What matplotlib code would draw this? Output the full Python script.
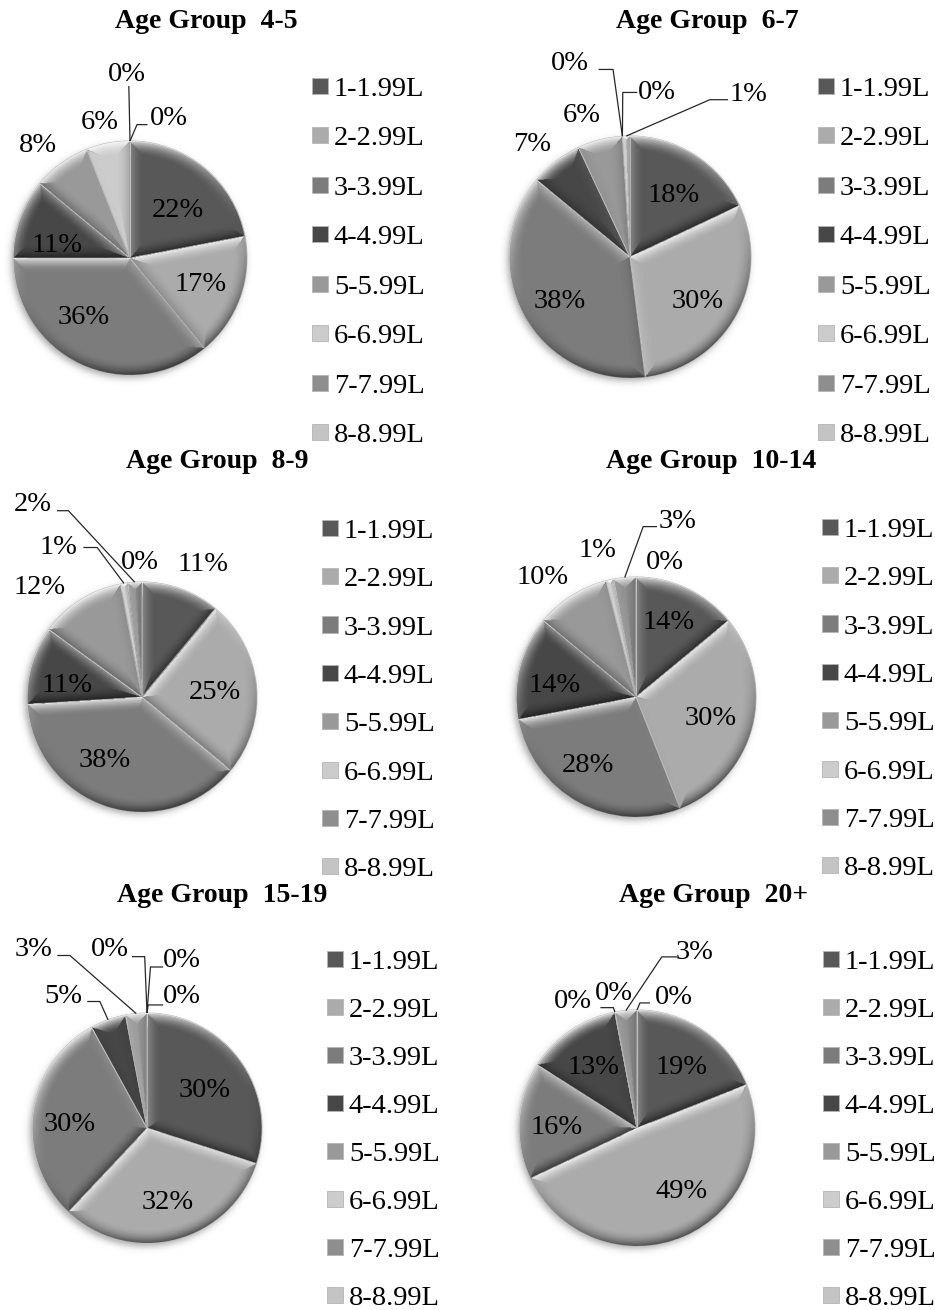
import numpy as np
import matplotlib
matplotlib.use("Agg")
import matplotlib.pyplot as plt
from matplotlib.patches import Patch

plt.rcParams['font.family'] = ['Liberation Serif', 'DejaVu Serif']

# ---------------------------------------------------------------- data
bins = ['1-1.99L', '2-2.99L', '3-3.99L', '4-4.99L',
        '5-5.99L', '6-6.99L', '7-7.99L', '8-8.99L']
groups = ['4-5', '6-7', '8-9', '10-14', '15-19', '20+']

share_4_5 = [22, 17, 36, 11, 8, 6, 0, 0]
share_6_7 = [18, 30, 38, 7, 6, 0, 0, 1]
share_8_9 = [11, 25, 38, 11, 12, 1, 2, 0]
share_10_14 = [14, 30, 28, 14, 10, 1, 3, 0]
share_15_19 = [30, 32, 30, 5, 3, 0, 0, 0]
share_20_plus = [19, 49, 16, 13, 0, 0, 3, 0]

shares = [share_4_5, share_6_7, share_8_9, share_10_14, share_15_19, share_20_plus]

# ---------------------------------------------------------------- style
slice_colors = ['#585858', '#ababab', '#7c7c7c', '#474747',
                '#999999', '#cccccc', '#8e8e8e', '#c4c4c4']

FIG_W, FIG_H = 935, 1310
FS_TITLE = 20
FS_TEXT = 20.5

# pie centre (px from top-left) and radius (px)
pie_geom = [((130, 258), 117), ((630, 257), 121),
            ((142, 697), 115), ((636, 697), 120),
            ((147, 1128), 115), ((637, 1128), 118)]

title_pos = [(206, 21), (707, 21), (217, 462), (711, 462), (222, 895), (714, 895)]

# legend: left edge of the markers and top of the first row (px), row spacing
legend_pos = [(312, 77), (818, 77), (322, 519), (822, 518), (327, 950), (823, 950)]
legend_spacing = [0.86, 0.86, 0.82, 0.82, 0.81, 0.81]

# label placement in radius units; leader = (start, elbow) or None
label_layout = [
    [((0.41, 0.41), None), ((0.60, -0.23), None), ((-0.40, -0.51), None),
     ((-0.62, 0.11), None), ((-0.79, 0.96), None), ((-0.26, 1.16), None),
     ((-0.03, 1.57), ((-0.01, 1.47), (-0.01, 1.47))),
     ((0.33, 1.19), ((0.15, 1.14), (0.06, 1.14)))],
    [((0.36, 0.51), None), ((0.56, -0.37), None), ((-0.58, -0.37), None),
     ((-0.81, 0.93), None), ((-0.40, 1.17), None),
     ((-0.50, 1.60), ((-0.26, 1.55), (-0.14, 1.55))),
     ((0.22, 1.36), ((0.06, 1.36), (-0.06, 1.36))),
     ((0.98, 1.34), ((0.81, 1.30), (0.66, 1.30)))],
    [((0.53, 1.15), None), ((0.63, 0.04), None), ((-0.32, -0.55), None),
     ((-0.65, 0.10), None), ((-0.89, 0.95), None),
     ((-0.73, 1.30), ((-0.51, 1.30), (-0.39, 1.30))),
     ((-0.95, 1.67), ((-0.74, 1.62), (-0.64, 1.62))),
     ((-0.02, 1.17), None)],
    [((0.27, 0.62), None), ((0.62, -0.18), None), ((-0.40, -0.57), None),
     ((-0.68, 0.10), None), ((-0.78, 1.00), None), ((-0.32, 1.22), None),
     ((0.35, 1.46), ((0.175, 1.42), (0.06, 1.42))),
     ((0.24, 1.12), None)],
    [((0.50, 0.33), None), ((0.18, -0.65), None), ((-0.67, 0.03), None),
     ((-0.73, 1.14), ((-0.52, 1.10), (-0.41, 1.10))),
     ((-0.99, 1.55), ((-0.78, 1.50), (-0.67, 1.50))),
     ((-0.32, 1.55), ((-0.13, 1.49), (-0.02, 1.49))),
     ((0.30, 1.46), ((0.14, 1.40), (0.03, 1.40))),
     ((0.30, 1.14), ((0.14, 1.07), (0.01, 1.07)))],
    [((0.38, 0.51), None), ((0.38, -0.54), None), ((-0.68, 0.00), None),
     ((-0.37, 0.51), None),
     ((-0.54, 1.07), ((-0.31, 1.02), (-0.20, 1.02))),
     ((-0.20, 1.14), None),
     ((0.49, 1.49), ((0.34, 1.45), (0.21, 1.45))),
     ((0.31, 1.11), ((0.11, 1.06), (0.025, 1.06)))],
]

LIGHT = np.array([-0.35, 0.94])
LIGHT = LIGHT / np.linalg.norm(LIGHT)


def add_bevel(ax, wedge, n=320, width=0.12):
    """Soft bevel shading clipped to one wedge."""
    t1, t2 = np.radians(wedge.theta1), np.radians(wedge.theta2)
    if t2 - t1 < 1e-4:
        return
    xs = np.linspace(-1, 1, n)
    X, Y = np.meshgrid(xs, xs)
    r = np.hypot(X, Y) + 1e-9
    phi = np.arctan2(Y, X)
    a1 = np.mod(phi - t1, 2 * np.pi)
    a2 = np.mod(t2 - phi, 2 * np.pi)
    d_arc = 1.0 - r
    d1 = np.where(a1 < np.pi / 2, r * np.sin(a1), r)
    d2 = np.where(a2 < np.pi / 2, r * np.sin(a2), r)
    dots = np.stack([
        (X / r) * LIGHT[0] + (Y / r) * LIGHT[1],
        np.full_like(X, np.sin(t1) * LIGHT[0] - np.cos(t1) * LIGHT[1]),
        np.full_like(X, -np.sin(t2) * LIGHT[0] + np.cos(t2) * LIGHT[1]),
    ])
    dist = np.stack([d_arc, d1, d2])
    idx = np.argmin(dist, axis=0)
    d = np.take_along_axis(dist, idx[None], 0)[0]
    dot = np.take_along_axis(dots, idx[None], 0)[0]
    prof = np.clip(1 - d / width, 0, 1) ** 1.8
    s = prof * dot
    rgba = np.zeros((n, n, 4))
    rgba[..., :3] = np.where(s > 0, 1.0, 0.0)[..., None]
    rgba[..., 3] = np.where(s > 0, s * 0.8, -s * 0.55)
    im = ax.imshow(rgba, extent=(-1, 1, -1, 1), origin='lower',
                   interpolation='bilinear', zorder=wedge.get_zorder() + 0.1)
    im.set_clip_path(wedge)


def add_shadow(ax, n=300):
    xs = np.linspace(-1.3, 1.3, n)
    X, Y = np.meshgrid(xs, xs)
    r = np.hypot(X + 0.02, Y + 0.03)
    a = 0.32 * 0.5 * (1 - np.tanh((r - 1.0) / 0.035))
    rgba = np.zeros((n, n, 4))
    rgba[..., 3] = a
    ax.imshow(rgba, extent=(-1.3, 1.3, -1.3, 1.3), origin='lower',
              interpolation='bilinear', zorder=0)


fig = plt.figure(figsize=(FIG_W / 100, FIG_H / 100), dpi=100)
fig.patch.set_facecolor('white')

HALF = 2.2
for k, (grp, vals) in enumerate(zip(groups, shares)):
    (cx, cy), R = pie_geom[k]
    ax = fig.add_axes([(cx - HALF * R) / FIG_W, 1 - (cy + HALF * R) / FIG_H,
                       2 * HALF * R / FIG_W, 2 * HALF * R / FIG_H])
    ax.set_facecolor('none')
    add_shadow(ax)
    wedges, _ = ax.pie(vals, colors=slice_colors, startangle=90,
                       counterclock=False, radius=1.0,
                       wedgeprops=dict(edgecolor='#bdbdbd', linewidth=0.7))
    for w in wedges:
        add_bevel(ax, w)

    for v, w, (pos, leader) in zip(vals, wedges, label_layout[k]):
        ax.text(pos[0], pos[1], f"{v}%", ha='center', va='center',
                fontsize=FS_TEXT, color='black', zorder=10)
        if leader is not None:
            mid = np.radians(0.5 * (w.theta1 + w.theta2))
            tip = (np.cos(mid), np.sin(mid))
            xs_l = [leader[0][0], leader[1][0], tip[0]]
            ys_l = [leader[0][1], leader[1][1], tip[1]]
            ax.plot(xs_l, ys_l, color='#262626', lw=0.9, zorder=9,
                    solid_capstyle='butt')

    ax.set_xlim(-HALF, HALF)
    ax.set_ylim(-HALF, HALF)
    ax.set_aspect('equal')
    ax.axis('off')

    tx, ty = title_pos[k]
    fig.text(tx / FIG_W, 1 - ty / FIG_H, f"Age Group  {grp}", ha='center',
             va='center', fontsize=FS_TITLE, fontweight='bold')

    handles = [Patch(facecolor=c, edgecolor='#b5b5b5', linewidth=0.6)
               for c in slice_colors]
    lx, ly = legend_pos[k]
    fig.legend(handles, bins, loc='upper left',
               bbox_to_anchor=(lx / FIG_W, 1 - ly / FIG_H),
               frameon=False, fontsize=FS_TEXT, borderpad=0, borderaxespad=0,
               handlelength=0.55, handleheight=0.5, handletextpad=0.22,
               labelspacing=legend_spacing[k])

fig.savefig('out.png', dpi=100, facecolor='white')
